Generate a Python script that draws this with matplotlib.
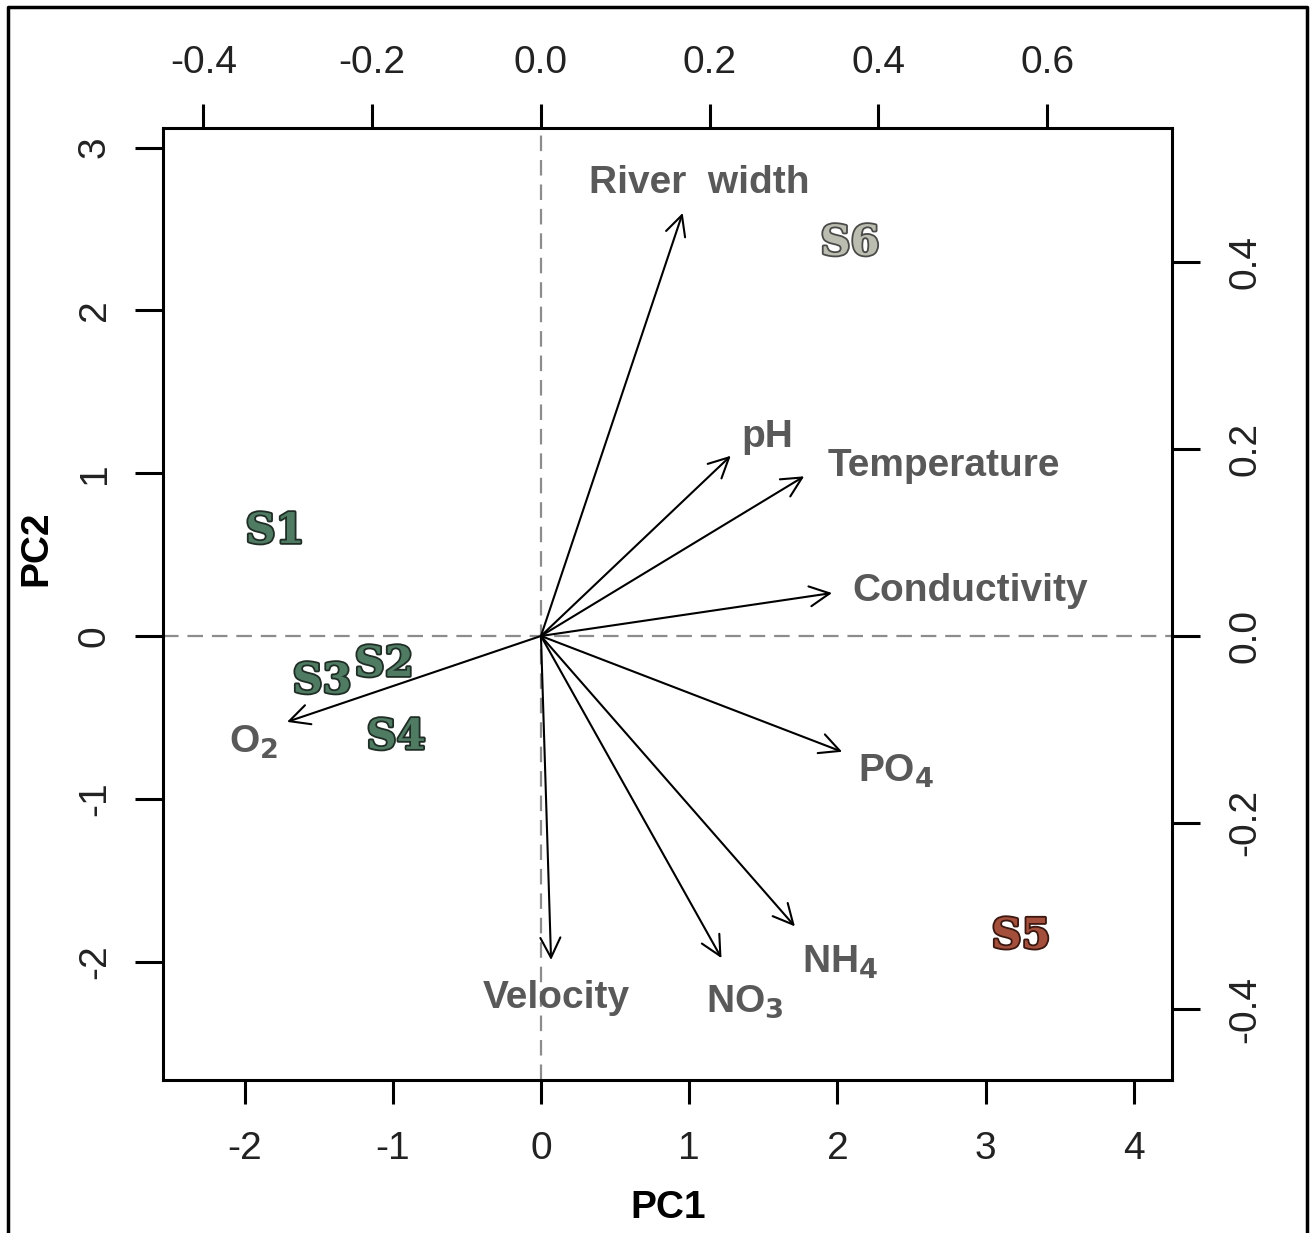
"""
PCA biplot of river sites and water-quality variables.
"""

import matplotlib

matplotlib.use("Agg")

import matplotlib.pyplot as plt
import matplotlib.patheffects as pe
from matplotlib.lines import Line2D
from matplotlib.ticker import FormatStrFormatter

# site scores (PC1, PC2)
sites = ["S1", "S2", "S3", "S4", "S5", "S6"]
site_pc1 = [-1.795, -1.059, -1.478, -0.978, 3.239, 2.085]
site_pc2 = [0.645, -0.172, -0.276, -0.620, -1.843, 2.414]
site_group = ["upstream", "upstream", "upstream", "upstream", "impacted", "wide"]

# variable loadings (top / right axes)
variables = [
    "River  width", "pH", "Temperature", "Conductivity",
    r"PO$_\mathbf{4}$", r"NH$_\mathbf{4}$", r"NO$_\mathbf{3}$",
    "Velocity", r"O$_\mathbf{2}$",
]
load_pc1 = [0.168, 0.225, 0.312, 0.345, 0.357, 0.301, 0.214, 0.012, -0.301]
load_pc2 = [0.453, 0.193, 0.171, 0.046, -0.124, -0.311, -0.345, -0.347, -0.092]

# where each variable name sits (loading units)
label_x = [0.188, 0.268, 0.478, 0.509, 0.421, 0.354, 0.242, 0.018, -0.341]
label_y = [0.485, 0.213, 0.182, 0.048, -0.145, -0.350, -0.392, -0.388, -0.114]

score_xticks = [-2, -1, 0, 1, 2, 3, 4]
score_yticks = [-2, -1, 0, 1, 2, 3]
load_xticks = [-0.4, -0.2, 0.0, 0.2, 0.4, 0.6]
load_yticks = [-0.4, -0.2, 0.0, 0.2, 0.4]

GROUP_STYLE = {
    "upstream": ("#4f7b63", "#1f2d25"),
    "impacted": ("#a44f3b", "#3a1710"),
    "wide": ("#babdb0", "#4a4a48"),
}

W, H = 1311, 1233


def main():

    plt.rcParams["font.family"] = ["Liberation Sans", "DejaVu Sans"]
    plt.rcParams["axes.unicode_minus"] = False
    plt.rcParams["mathtext.fontset"] = "dejavusans"
    plt.rcParams["mathtext.default"] = "bf"

    fig = plt.figure(figsize=(W / 100, H / 100), dpi=100)

    rect = [163 / W, 1 - 1080 / H, (1172 - 163) / W, (1080 - 128) / H]

    ax = fig.add_axes(rect)
    ax.set_xlim(-2.551, 4.258)
    ax.set_ylim(-2.727, 3.120)

    ax2 = fig.add_axes(rect, frameon=False)
    ax2.set_xlim(-0.448, 0.748)
    ax2.set_ylim(-0.4755, 0.544)
    ax2.patch.set_visible(False)

    for s in ax.spines.values():
        s.set_linewidth(2.2)

    #
    # ticks
    #

    ax.set_xticks(score_xticks)
    ax.set_yticks(score_yticks)
    ax.tick_params(axis="x", length=17, width=2.2, pad=20,
                   labelsize=28, labelcolor="#222222")
    ax.tick_params(axis="y", length=20, width=2.2, pad=16,
                   labelsize=28, labelcolor="#222222", labelrotation=90)
    for t in ax.get_yticklabels():
        t.set_va("center")

    ax2.xaxis.tick_top()
    ax2.yaxis.tick_right()
    ax2.set_xticks(load_xticks)
    ax2.set_yticks(load_yticks)
    ax2.xaxis.set_major_formatter(FormatStrFormatter("%.1f"))
    ax2.yaxis.set_major_formatter(FormatStrFormatter("%.1f"))
    ax2.tick_params(axis="x", length=17, width=2.2, pad=17,
                    labelsize=28, labelcolor="#222222")
    ax2.tick_params(axis="y", length=20, width=2.2, pad=20,
                    labelsize=28, labelcolor="#222222", labelrotation=90)
    for t in ax2.get_yticklabels():
        t.set_va("center")

    #
    # zero lines
    #

    ax.axhline(0, color="#8c8c8c", lw=1.6, ls=(0, (7, 4)), zorder=1)
    ax.axvline(0, color="#8c8c8c", lw=1.6, ls=(0, (7, 4)), zorder=1)

    #
    # loading arrows
    #

    for name, x, y, lx, ly in zip(variables, load_pc1, load_pc2,
                                  label_x, label_y):

        ax2.annotate(
            "",
            xy=(x, y),
            xytext=(0, 0),
            arrowprops=dict(
                arrowstyle="->,head_length=0.4,head_width=0.2",
                lw=1.5,
                color="black",
                mutation_scale=36,
                shrinkA=0,
                shrinkB=0,
            ),
        )

        ax2.text(lx, ly, name, ha="center", va="center",
                 fontsize=28, fontweight="bold", color="#595959")

    #
    # site labels
    #

    for name, x, y, g in zip(sites, site_pc1, site_pc2, site_group):

        face, edge = GROUP_STYLE[g]

        ax.text(
            x, y, name,
            ha="center", va="center",
            fontsize=30, fontweight="bold",
            family="DejaVu Serif",
            color=face,
            path_effects=[pe.withStroke(linewidth=2.6, foreground=edge)],
            zorder=5,
        )

    #
    # axis titles
    #

    fig.text(668 / W, 1 - 1208 / H, "PC1", ha="center", va="center",
             fontsize=28, fontweight="bold")
    fig.text(36 / W, 1 - 548 / H, "PC2", ha="center", va="center",
             fontsize=28, fontweight="bold", rotation=90)

    #
    # outer frame (left, top, right)
    #

    fx = [8 / W, 8 / W, 1307 / W, 1307 / W]
    fy = [0, 1 - 7 / H, 1 - 7 / H, 0]
    fig.add_artist(Line2D(fx, fy, transform=fig.transFigure,
                          color="black", lw=2.5))

    fig.savefig("out.png", dpi=100)

    plt.close(fig)


if __name__ == "__main__":

    main()
